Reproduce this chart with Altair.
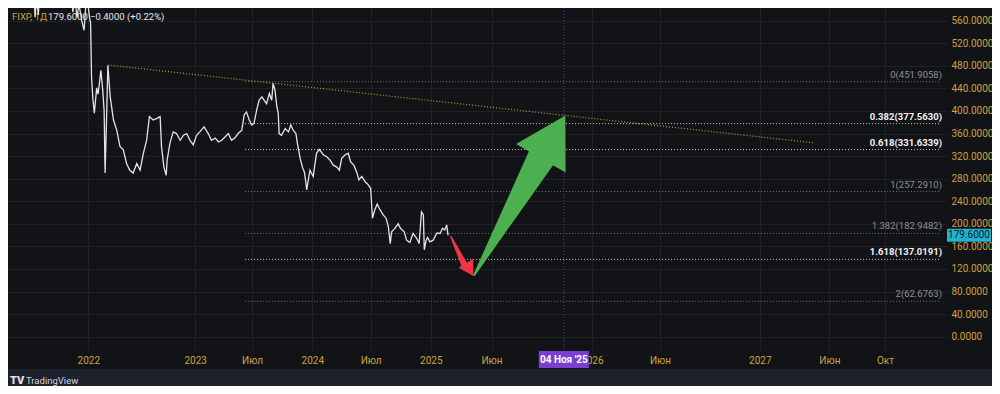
import altair as alt
import pandas as pd

# ---------------- data ----------------
# x position is a session (bar) index: 0 = first session of 2022
bar = [-118, -114, -111, -107, -104, -82, -61, -39, -33, -29,
       -24, -20, -14, -9, -5, -2, 2, 5, 7, 10,
       13, 18, 21, 24, 27, 31, 34, 36, 39, 42,
       47, 54, 61, 68, 75, 82, 89, 96, 104, 111,
       118, 125, 131, 139, 147, 154, 157, 162, 167, 169,
       175, 182, 189, 197, 204, 211, 218, 225, 232, 239,
       248, 257, 264, 272, 279, 286, 293, 300, 307, 314,
       321, 329, 334, 339, 345, 350, 355, 361, 366, 372,
       377, 382, 388, 393, 396, 400, 404, 407, 409, 414,
       422, 429, 434, 439, 445, 448, 454, 459, 463, 466,
       468, 475, 482, 489, 495, 504, 511, 518, 525, 532,
       538, 543, 550, 557, 562, 569, 575, 580, 586, 593,
       600, 605, 609, 614, 619, 625, 632, 638, 643, 647,
       650, 657, 664, 669, 677, 682, 689, 696, 704, 709,
       714, 718, 720, 724, 727, 732, 739, 747, 754, 759,
       764, 768, 771]
close = [640, 566, 600, 570, 620, 660, 680, 640, 575, 600,
         566, 590, 560, 543, 590, 600, 570, 555, 460, 420,
         396, 441, 430, 450, 472, 437, 400, 290, 380, 481,
         425, 384, 366, 337, 331, 307, 295, 290, 307, 295,
         325, 348, 390, 384, 387, 390, 336, 301, 286, 313,
         343, 363, 360, 348, 357, 360, 348, 340, 357, 363,
         372, 360, 348, 352, 345, 348, 354, 360, 348, 352,
         360, 366, 393, 398, 384, 375, 378, 402, 419, 425,
         419, 413, 431, 419, 449, 437, 408, 396, 360, 357,
         369, 363, 375, 366, 360, 343, 316, 300, 292, 275,
         260, 295, 284, 325, 332, 322, 319, 313, 304, 301,
         295, 316, 322, 325, 310, 304, 292, 278, 284, 275,
         269, 263, 210, 225, 235, 225, 216, 210, 195, 165,
         186, 192, 200, 192, 186, 171, 167, 183, 174, 165,
         221, 216, 154, 171, 176, 168, 171, 184, 183, 192,
         189, 198, 179.6]

fib_ratio = ["0", "0.382", "0.618", "1", "1.382", "1.618", "2"]
fib_price = [451.9058, 377.5630, 331.6339, 257.2910, 182.9482, 137.0191, 62.6763]
fib_bold = [False, True, True, False, False, True, False]
fib_from = 336
fib_to = 1825

trend_bar = [43, 1557]
trend_price = [481.5, 343.3]

tick_bar = [0, 229, 351, 480, 605, 734, 864, 1079, 1225, 1439, 1588, 1707]
tick_label = ["2022", "2023", "Июл", "2024", "Июл", "2025", "Июн", "2026",
              "Июн", "2027", "Июн", "Окт"]
price_ticks = [0, 40, 80, 120, 160, 200, 240, 280, 320, 360, 400, 440, 480, 520, 560]

marker_bar = 1019
marker_text = "04 Ноя '25"
last_price = 179.6
last_text = "179.6000"

header_ticker = "FIXP, 1Д"
header_last = "179.6000"
header_change = "−0.4000 (+0.22%)"

red_shaft_bar = [777, 809]
red_shaft_price = [177.2, 122.3]
red_head_bar = [817]
red_head_price = [118.9]

green_shaft_bar = [827, 971]
green_shaft_price = [109.3, 317.6]
green_head_bar = [996]
green_head_price = [354.2]

# ---------------- styling ----------------
FONT = "Roboto"
PANEL = "#121316"
OUTER = "#1e222d"
GRID = "#1f2227"
GOLD = "#cda23e"
PURPLE_LINE = "#5a36c9"
PURPLE_BOX = "#7a3fd0"
CYAN = "#1fb3d1"
RED = "#f23645"
GREEN = "#4caf50"
YELLOW = "#aea52d"

W, H = 939, 342

xscale = alt.Scale(domain=[-172, 1840], nice=False, zero=False)
yscale = alt.Scale(domain=[-23.6, 582.5], nice=False, zero=False)

label_expr = " : ".join(
    f"datum.value == {b} ? '{l}'" for b, l in zip(tick_bar, tick_label)
) + " : ''"

xaxis = alt.Axis(values=tick_bar, labelExpr=label_expr, grid=True, gridColor=GRID,
                 gridWidth=1, domain=False, ticks=False, tickSize=0, labelPadding=10,
                 labelBaseline="middle", labelColor=GOLD, labelFont=FONT,
                 labelFontSize=10, labelFlush=False, labelOverlap=False, title=None)
yaxis = alt.Axis(orient="right", values=price_ticks, format=".4f", grid=True,
                 gridColor=GRID, gridWidth=1, domain=False, ticks=False, tickSize=0,
                 labelPadding=4, labelColor=GOLD, labelFont=FONT, labelFontSize=10,
                 labelOverlap=False, labelFlush=False, title=None)


def X(f):
    return alt.X(f, type="quantitative", scale=xscale, axis=xaxis)


def Y(f):
    return alt.Y(f, type="quantitative", scale=yscale, axis=yaxis)


one = pd.DataFrame({"a": [0]})

strip = alt.Chart(one).mark_rect(color=OUTER).encode(
    x=alt.value(0), x2=alt.value(984), y=alt.value(361), y2=alt.value(378))

price_df = pd.DataFrame({"bar": bar, "price": close})

fib_df = pd.DataFrame({
    "ratio": fib_ratio, "price": fib_price, "bold": fib_bold,
    "bar": [fib_from] * len(fib_ratio), "bar2": [fib_to] * len(fib_ratio),
})
fib_df["label"] = [f"{r}({p:.4f})" for r, p in zip(fib_ratio, fib_price)]

fib_gray = alt.Chart(fib_df).transform_filter("!datum.bold").mark_rule(
    color="#6f727b", strokeDash=[1, 2], strokeWidth=1).encode(
    x=X("bar"), x2="bar2", y=Y("price"))
fib_white = alt.Chart(fib_df).transform_filter("datum.bold").mark_rule(
    color="#c8cad0", strokeDash=[1, 2], strokeWidth=1).encode(
    x=X("bar"), x2="bar2", y=Y("price"))

fib_lab_gray = alt.Chart(fib_df).transform_filter("!datum.bold").mark_text(
    align="right", baseline="middle", dx=2, dy=-7, font=FONT, fontSize=9.5,
    color="#8c8f99").encode(x=X("bar2"), y=Y("price"), text="label")
fib_lab_white = alt.Chart(fib_df).transform_filter("datum.bold").mark_text(
    align="right", baseline="middle", dx=2, dy=-7, font=FONT, fontSize=9.5,
    fontWeight="bold", color="#f2f2f2").encode(x=X("bar2"), y=Y("price"), text="label")

trend = alt.Chart(pd.DataFrame({"bar": trend_bar, "price": trend_price})).mark_line(
    color=YELLOW, strokeDash=[1, 2], strokeWidth=1.2).encode(x=X("bar"), y=Y("price"))

marker_df = pd.DataFrame({"bar": [marker_bar], "label": [marker_text]})
vline = alt.Chart(marker_df).mark_rule(color=PURPLE_LINE, strokeDash=[1, 2],
                                       strokeWidth=1).encode(x=X("bar"))

head_ticker = alt.Chart(pd.DataFrame({"t": [header_ticker]})).mark_text(
    align="left", baseline="middle", font=FONT, fontSize=9.5, color=GOLD).encode(
    x=alt.value(4), y=alt.value(9), text="t")
head_last = alt.Chart(pd.DataFrame({"t": [header_last]})).mark_text(
    align="left", baseline="middle", font=FONT, fontSize=9.5, color="#e8e8e8").encode(
    x=alt.value(40), y=alt.value(9), text="t")
head_change = alt.Chart(pd.DataFrame({"t": [header_change]})).mark_text(
    align="left", baseline="middle", font=FONT, fontSize=9.5, color="#e8e8e8").encode(
    x=alt.value(82), y=alt.value(9), text="t")

line = alt.Chart(price_df).mark_line(color="#e4e4e4", strokeWidth=1.3, clip=True).encode(
    x=X("bar"), y=Y("price"))

red_shaft = alt.Chart(pd.DataFrame({"bar": red_shaft_bar, "price": red_shaft_price,
                                    "w": [1.5, 7]})).mark_trail(color=RED).encode(
    x=X("bar"), y=Y("price"), size=alt.Size("w:Q", scale=None, legend=None))
red_head = alt.Chart(pd.DataFrame({"bar": red_head_bar, "price": red_head_price})).mark_point(
    shape="triangle-up", filled=True, size=290, angle=149.5, color=RED, opacity=1,
    strokeWidth=0).encode(x=X("bar"), y=Y("price"))

green_shaft = alt.Chart(pd.DataFrame({"bar": green_shaft_bar, "price": green_shaft_price,
                                      "w": [2, 28]})).mark_trail(color=GREEN).encode(
    x=X("bar"), y=Y("price"), size=alt.Size("w:Q", scale=None, legend=None))
green_head = alt.Chart(pd.DataFrame({"bar": green_head_bar, "price": green_head_price})).mark_point(
    shape="triangle-up", filled=True, size=3249, angle=29.8, color=GREEN, opacity=1,
    strokeWidth=0).encode(x=X("bar"), y=Y("price"))

tag_df = pd.DataFrame({"price": [last_price], "label": [last_text]})
tag_box = alt.Chart(tag_df).mark_tick(orient="horizontal", size=44, thickness=13,
                                      color=CYAN, opacity=1).encode(
    x=alt.value(961), y=Y("price"))
tag_text = alt.Chart(tag_df).mark_text(font=FONT, fontSize=10, color="#10131a",
                                       baseline="middle").encode(
    x=alt.value(961), y=Y("price"), text="label")

date_box = alt.Chart(marker_df).mark_tick(orient="vertical", size=17, thickness=50,
                                          color=PURPLE_BOX, opacity=1).encode(
    x=X("bar"), y=alt.value(351.5))
date_text = alt.Chart(marker_df).mark_text(font=FONT, fontSize=10, fontWeight="bold",
                                           color="#ffffff", baseline="middle").encode(
    x=X("bar"), y=alt.value(351.5), text="label")

logo_icon = alt.Chart(pd.DataFrame({"t": ["TV"]})).mark_text(
    align="left", baseline="middle", font=FONT, fontSize=11, fontWeight=900,
    color="#e0e3eb").encode(x=alt.value(2), y=alt.value(373), text="t")
logo_text = alt.Chart(pd.DataFrame({"t": ["TradingView"]})).mark_text(
    align="left", baseline="middle", font=FONT, fontSize=9.5, color="#d1d4dc").encode(
    x=alt.value(18), y=alt.value(373), text="t")

chart = alt.layer(
    strip, fib_gray, fib_white, trend, vline, head_ticker, head_last, head_change,
    line, fib_lab_gray, fib_lab_white, red_shaft, red_head, green_shaft, green_head,
    tag_box, tag_text, date_box, date_text, logo_icon, logo_text,
).properties(
    width=W, height=H,
    autosize=alt.AutoSizeParams(type="none"),
    padding={"left": 0, "top": 0, "right": 45, "bottom": 36},
    background=PANEL,
).configure_view(strokeWidth=0)

chart.save("out.html", embed_options={"renderer": "svg", "actions": False})
